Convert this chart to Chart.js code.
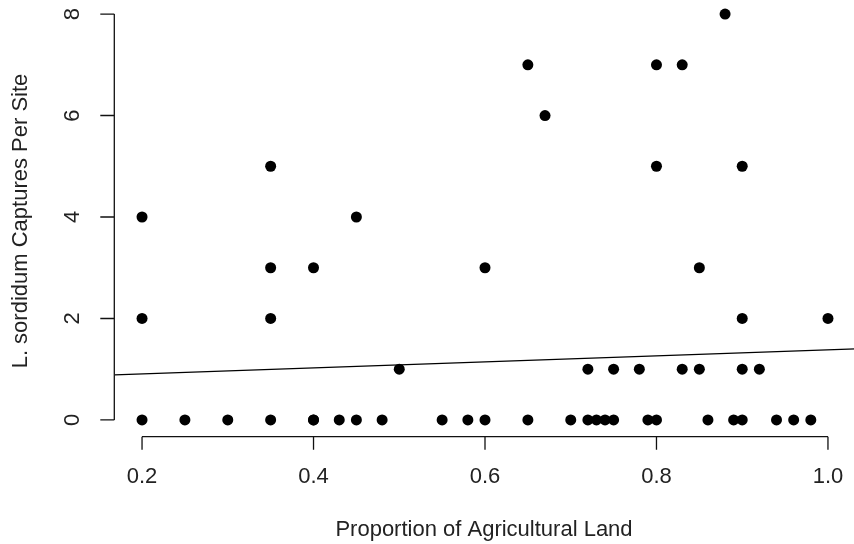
<!DOCTYPE html>
<html lang="en">
<head>
    <meta charset="UTF-8">
    <meta name="viewport" content="width=device-width, initial-scale=1.0">
    <script src="https://cdn.jsdelivr.net/npm/chart.js"></script>
    <title>Captures vs agricultural land</title>
    <style>
        * {
            margin: 0;
            padding: 0;
            box-sizing: border-box;
        }
        body {
            width: 854px;
            height: 544px;
            overflow: hidden;
            background: #fff;
            position: relative;
        }
        /* canvas is a bit larger than the page so the plot region can touch the top/right edges */
        #wrap {
            position: absolute;
            left: 0;
            top: -3px;
            width: 860px;
            height: 560px;
        }
    </style>
</head>
<body>
    <div id="wrap">
        <canvas id="captures"></canvas>
    </div>
<script>
    // one entry per site
    const agLand = [
        0.2, 0.2, 0.35, 0.35, 0.35, 0.4, 0.45, 0.5, 0.6, 0.65, 0.67,
        0.72, 0.75, 0.78, 0.8, 0.8, 0.83, 0.83, 0.85, 0.85, 0.88,
        0.9, 0.9, 0.9, 0.92, 1.0,
        0.2, 0.25, 0.3, 0.35, 0.4, 0.4, 0.43, 0.45, 0.48, 0.55, 0.58, 0.6,
        0.65, 0.7, 0.72, 0.73, 0.74, 0.75, 0.79, 0.8, 0.86, 0.89, 0.9,
        0.94, 0.96, 0.98
    ];
    const captures = [
        4, 2, 5, 3, 2, 3, 4, 1, 3, 7, 6,
        1, 1, 1, 7, 5, 7, 1, 3, 1, 8,
        5, 2, 1, 1, 2,
        0, 0, 0, 0, 0, 0, 0, 0, 0, 0, 0, 0,
        0, 0, 0, 0, 0, 0, 0, 0, 0, 0, 0,
        0, 0, 0
    ];

    const xTicks = [0.2, 0.4, 0.6, 0.8, 1.0];
    const yTicks = [0, 2, 4, 6, 8];

    // fitted line
    const fitIntercept = 0.787;
    const fitSlope = 0.595;

    // axis limits (data range padded by 4%)
    const xRange = [0.168, 1.032];
    const yRange = [-0.32, 8.32];

    const FONT = '22px "Liberation Sans", Arial, Helvetica, sans-serif';

    // base-graphics style axes: line only between first and last tick, ticks pointing out
    const baseAxes = {
        id: 'baseAxes',
        afterDraw(chart) {
            const ctx = chart.ctx;
            const xs = chart.scales.x;
            const ys = chart.scales.y;
            const area = chart.chartArea;

            ctx.save();
            ctx.strokeStyle = '#111';
            ctx.lineWidth = 1.3;

            // x axis
            const ax = area.bottom + 0.5;
            ctx.beginPath();
            ctx.moveTo(xs.getPixelForValue(xTicks[0]), ax);
            ctx.lineTo(xs.getPixelForValue(xTicks[xTicks.length - 1]), ax);
            xTicks.forEach(v => {
                const px = xs.getPixelForValue(v);
                ctx.moveTo(px, ax);
                ctx.lineTo(px, ax + 13);
            });
            ctx.stroke();

            // y axis
            const ay = area.left - 0.3;
            ctx.beginPath();
            ctx.moveTo(ay, ys.getPixelForValue(yTicks[0]));
            ctx.lineTo(ay, ys.getPixelForValue(yTicks[yTicks.length - 1]));
            yTicks.forEach(v => {
                const py = ys.getPixelForValue(v);
                ctx.moveTo(ay, py);
                ctx.lineTo(ay - 14, py);
            });
            ctx.stroke();

            ctx.fillStyle = '#222';
            ctx.font = FONT;
            ctx.textAlign = 'center';
            ctx.textBaseline = 'middle';

            xTicks.forEach(v => {
                ctx.fillText(v.toFixed(1), xs.getPixelForValue(v), ax + 40);
            });
            ctx.fillText('Proportion of Agricultural Land', (area.left + area.right) / 2 - 1, ax + 93);

            yTicks.forEach(v => {
                ctx.save();
                ctx.translate(ay - 41, ys.getPixelForValue(v));
                ctx.rotate(-Math.PI / 2);
                ctx.fillText(String(v), 0, 0);
                ctx.restore();
            });

            ctx.save();
            ctx.translate(ay - 93, (area.top + area.bottom) / 2 + 4);
            ctx.rotate(-Math.PI / 2);
            ctx.fillText('L. sordidum Captures Per Site', 0, 0);
            ctx.restore();

            ctx.restore();
        }
    };

    const ctx = document.getElementById('captures').getContext('2d');

    new Chart(ctx, {
        type: 'scatter',
        data: {
            datasets: [{
                label: 'Sites',
                data: agLand.map((v, i) => ({ x: v, y: captures[i] })),
                pointRadius: 5.5,
                pointHoverRadius: 5.5,
                backgroundColor: '#000',
                borderWidth: 0
            }, {
                type: 'line',
                label: 'Fit',
                data: xRange.map(v => ({ x: v, y: fitIntercept + fitSlope * v })),
                borderColor: '#000',
                borderWidth: 1.3,
                pointRadius: 0,
                fill: false
            }]
        },
        options: {
            responsive: true,
            maintainAspectRatio: false,
            animation: false,
            layout: {
                autoPadding: false,
                padding: { left: 114.6, right: 4.6, top: 0.8, bottom: 120.8 }
            },
            plugins: {
                legend: { display: false },
                tooltip: { enabled: false }
            },
            scales: {
                x: { type: 'linear', min: xRange[0], max: xRange[1], display: false },
                y: { type: 'linear', min: yRange[0], max: yRange[1], display: false }
            }
        },
        plugins: [baseAxes]
    });
</script>
</body>
</html>
